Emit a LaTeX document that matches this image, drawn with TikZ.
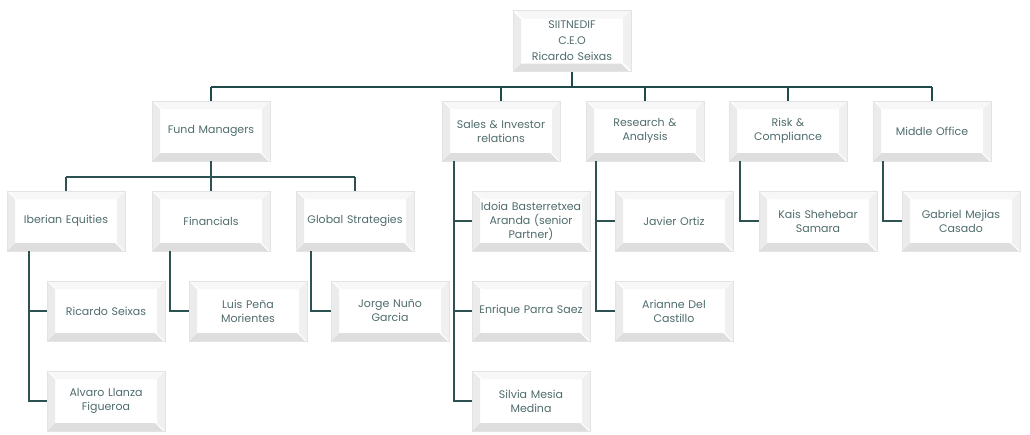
\documentclass[tikz,border=0pt]{standalone}
\usepackage{fontspec}
\setmainfont{Poppins}
\usetikzlibrary{positioning}

\definecolor{linkgreen}{RGB}{30,74,74}
\definecolor{textgray}{RGB}{80,108,108}

\tikzset{
  orgbox/.style={rectangle, minimum width=116pt, minimum height=60pt, inner sep=2pt,
    align=center, text width=114pt, font=\fontsize{11}{14}\selectfont, text=textgray,
    fill=white, draw=gray!22, line width=0.6pt,
    path picture={
      \begin{scope}[reset cm]
      \coordinate (bl) at (path picture bounding box.south west);
      \coordinate (tr) at (path picture bounding box.north east);
      \fill[gray!26] (bl) -- ++(116pt,0) -- ++(-8pt,8pt) -- ++(-100pt,0) -- cycle;
      \fill[gray!16] (bl) -- ++(0,60pt) -- ++(8pt,-8pt) -- ++(0,-44pt) -- cycle;
      \fill[gray!12] (tr) -- ++(0,-60pt) -- ++(-8pt,8pt) -- ++(0,44pt) -- cycle;
      \fill[gray!6] (tr) -- ++(-116pt,0) -- ++(8pt,-8pt) -- ++(100pt,0) -- cycle;
      \end{scope}
    }},
  topline/.style={draw=linkgreen, line width=2.6pt},
  subline/.style={draw=linkgreen!85!gray, line width=1.5pt},
}

\begin{document}
\begin{tikzpicture}[x=1pt,y=1pt,yscale=-1]
\useasboundingbox (0,0) rectangle (1030,434);

% top
\node[orgbox, minimum width=117pt, minimum height=61pt, font=\fontsize{11}{12}\selectfont] (ceo) at (572,41) {SIITNEDIF\\[4pt]C.E.O\\[4pt]Ricardo Seixas};

% departments
\node[orgbox] (fund) at (211,131) {Fund Managers};
\node[orgbox] (sales) at (501,131) {Sales \& Investor\\relations};
\node[orgbox] (research) at (645,131) {Research \&\\Analysis};
\node[orgbox] (risk) at (788,131) {Risk \&\\Compliance};
\node[orgbox] (middle) at (932,131) {Middle Office};

% fund managers desks
\node[orgbox] (iberian) at (66,221) {Iberian Equities};
\node[orgbox] (financials) at (211,221) {Financials};
\node[orgbox] (global) at (355,221) {Global Strategies};

% people
\node[orgbox] (ricardo) at (106,311) {Ricardo Seixas};
\node[orgbox] (alvaro) at (106,401) {Alvaro Llanza\\Figueroa};
\node[orgbox] (luis) at (248,311) {Luis Peña\\Morientes};
\node[orgbox] (jorge) at (390,311) {Jorge Nuño\\Garcia};
\node[orgbox] (idoia) at (531,221) {Idoia Basterretxea\\Aranda (senior\\Partner)};
\node[orgbox] (enrique) at (531,311) {Enrique Parra Saez};
\node[orgbox] (silvia) at (531,401) {Silvia Mesia\\Medina};
\node[orgbox] (javier) at (674,221) {Javier Ortiz};
\node[orgbox] (arianne) at (674,311) {Arianne Del\\Castillo};
\node[orgbox] (kais) at (818,221) {Kais Shehebar\\Samara};
\node[orgbox] (gabriel) at (961,221) {Gabriel Mejias\\Casado};

\coordinate (bus) at (0,87);
\coordinate (fundbus) at (0,177);

% main bar
\draw[topline] (ceo.south) -- (ceo.south |- bus);
\draw[topline] (fund.north |- bus) -- (middle.north |- bus);
\foreach \d in {fund,sales,research,risk,middle}
  \draw[topline] (\d.north) -- (\d.north |- bus);

% fund managers bar
\draw[subline] (fund.south) -- (fund.south |- fundbus);
\draw[subline] (iberian.north |- fundbus) -- (global.north |- fundbus);
\foreach \d in {iberian,financials,global}
  \draw[subline] (\d.north) -- (\d.north |- fundbus);

% side links
\draw[subline] ([xshift=-37pt]iberian.south) |- (alvaro.west);
\draw[subline] ([xshift=-37pt]iberian.south) |- (ricardo.west);
\draw[subline] ([xshift=-41pt]financials.south) |- (luis.west);
\draw[subline] ([xshift=-44pt]global.south) |- (jorge.west);
\draw[subline] ([xshift=-47pt]sales.south) |- (silvia.west);
\draw[subline] ([xshift=-47pt]sales.south) |- (idoia.west);
\draw[subline] ([xshift=-47pt]sales.south) |- (enrique.west);
\draw[subline] ([xshift=-49pt]research.south) |- (arianne.west);
\draw[subline] ([xshift=-49pt]research.south) |- (javier.west);
\draw[subline] ([xshift=-48pt]risk.south) |- (kais.west);
\draw[subline] ([xshift=-49pt]middle.south) |- (gabriel.west);
\end{tikzpicture}
\end{document}
